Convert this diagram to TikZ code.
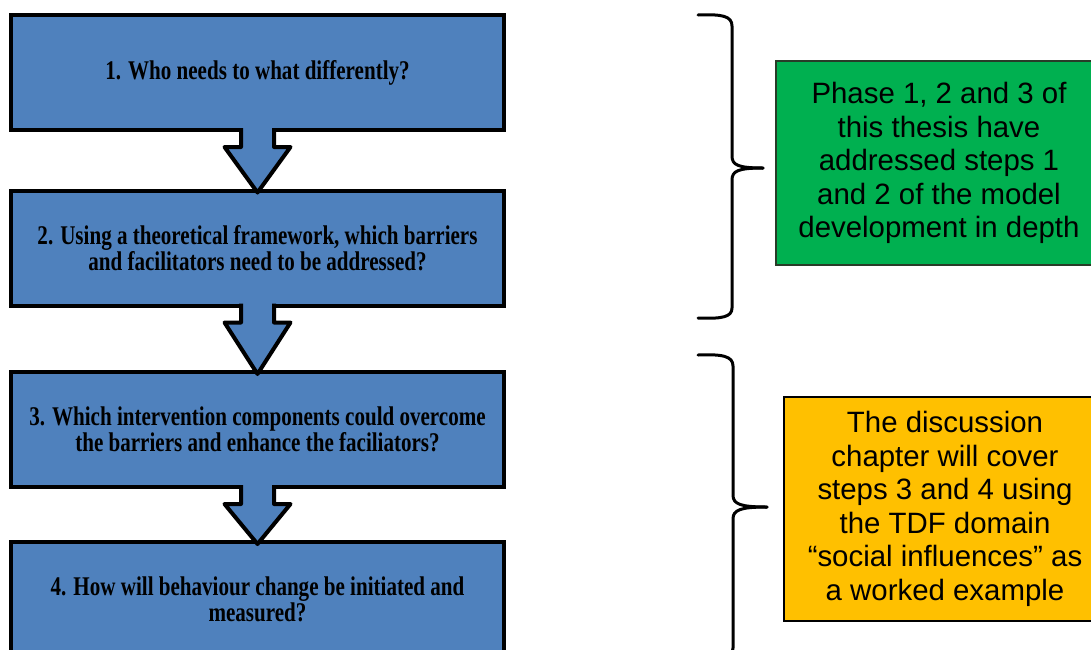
\documentclass[tikz,border=0pt]{standalone}
\usepackage{fontspec}
\setmainfont{Liberation Sans}
\newfontfamily\boxfont[FakeStretch=0.78]{Liberation Serif}
\usetikzlibrary{calc}
\definecolor{boxblue}{HTML}{4F81BD}
\definecolor{notegreen}{HTML}{00B050}
\definecolor{noteorange}{HTML}{FFC000}
\tikzset{
  stepbox/.style={draw=black, fill=boxblue, line width=4pt, outer sep=0pt, inner sep=0pt,
    minimum width=493pt, minimum height=115pt, align=center,
    font=\boxfont\bfseries\fontsize{27}{26.5}\selectfont},
  notebox/.style={line width=1.5pt, outer sep=0pt, inner sep=0pt, align=center,
    font=\fontsize{29.4}{33.5}\selectfont},
  brace/.style={draw=black, line width=3pt, line cap=round, line join=round},
  blockarrow/.style={draw=black, line width=4pt, line join=round}
}
\begin{document}
\begin{tikzpicture}[x=1pt, y=-1pt]
\useasboundingbox (0,0) rectangle (1091,649);
\clip (0,0) rectangle (1091,649);
\fill[white] (0,0) rectangle (1091,649);

\node[stepbox] (b1) at (257.5,72.5) {1. Who needs to what differently?};
\node[stepbox] (b2) at (257.5,248) {2. Using a theoretical framework, which barriers\\and facilitators need to be addressed?};
\node[stepbox] (b3) at (257.5,429.5) {3. Which intervention components could overcome\\the barriers and enhance the faciliators?};
\node[stepbox] (b4) at (257.5,599.5) {4. How will behaviour change be initiated and\\measured?};

\foreach \a/\b in {b1/b2,b2/b3,b3/b4}{
  \coordinate (s) at (\a.south);
  \coordinate (t) at (\b.north);
  \fill[boxblue] ($(s)+(-16.5,-2)$) -- ($(s)+(-16.5,17)$) -- ($(s)+(-33,17)$) -- ($(t)+(0,2)$)
     -- ($(s)+(33,17)$) -- ($(s)+(16.5,17)$) -- ($(s)+(16.5,-2)$) -- cycle;
  \draw[blockarrow] ($(s)+(-16.5,-2)$) -- ($(s)+(-16.5,17)$) -- ($(s)+(-33,17)$) -- ($(t)+(0,2)$)
     -- ($(s)+(33,17)$) -- ($(s)+(16.5,17)$) -- ($(s)+(16.5,-2)$);
}

\node[notebox, draw={rgb,255:red,40;green,60;blue,40}, fill=notegreen, minimum width=326pt, minimum height=204pt] (g) at (939,163)
  {Phase 1, 2 and 3 of\\this thesis have\\addressed steps 1\\and 2 of the model\\development in depth};
\node[notebox, draw=black, fill=noteorange, minimum width=322pt, minimum height=224pt] (o) at (945,509)
  {The discussion\\chapter will cover\\steps 3 and 4 using\\the TDF domain\\“social influences” as\\a worked example};

\coordinate (br1top) at (698,15);
\coordinate (br1tip) at (763,168);
\coordinate (br1bot) at (698,318);
\draw[brace] (br1top) .. controls (722,14) and (732,16) .. (732,26) -- (732,156)
  .. controls (732,165) and (738,168) .. (br1tip);
\draw[brace] (br1tip) .. controls (738,168) and (732,171) .. (732,180) -- (732,308)
  .. controls (732,317) and (722,319) .. (br1bot);

\coordinate (br2top) at (698,355);
\coordinate (br2tip) at (767,507);
\coordinate (br2bot) at (698,659);
\draw[brace] (br2top) .. controls (722,354) and (733,356) .. (733,366) -- (733,495)
  .. controls (733,504) and (740,507) .. (br2tip);
\draw[brace] (br2tip) .. controls (740,507) and (733,510) .. (733,519) -- (733,648)
  .. controls (733,657) and (722,659) .. (br2bot);
\end{tikzpicture}
\end{document}
